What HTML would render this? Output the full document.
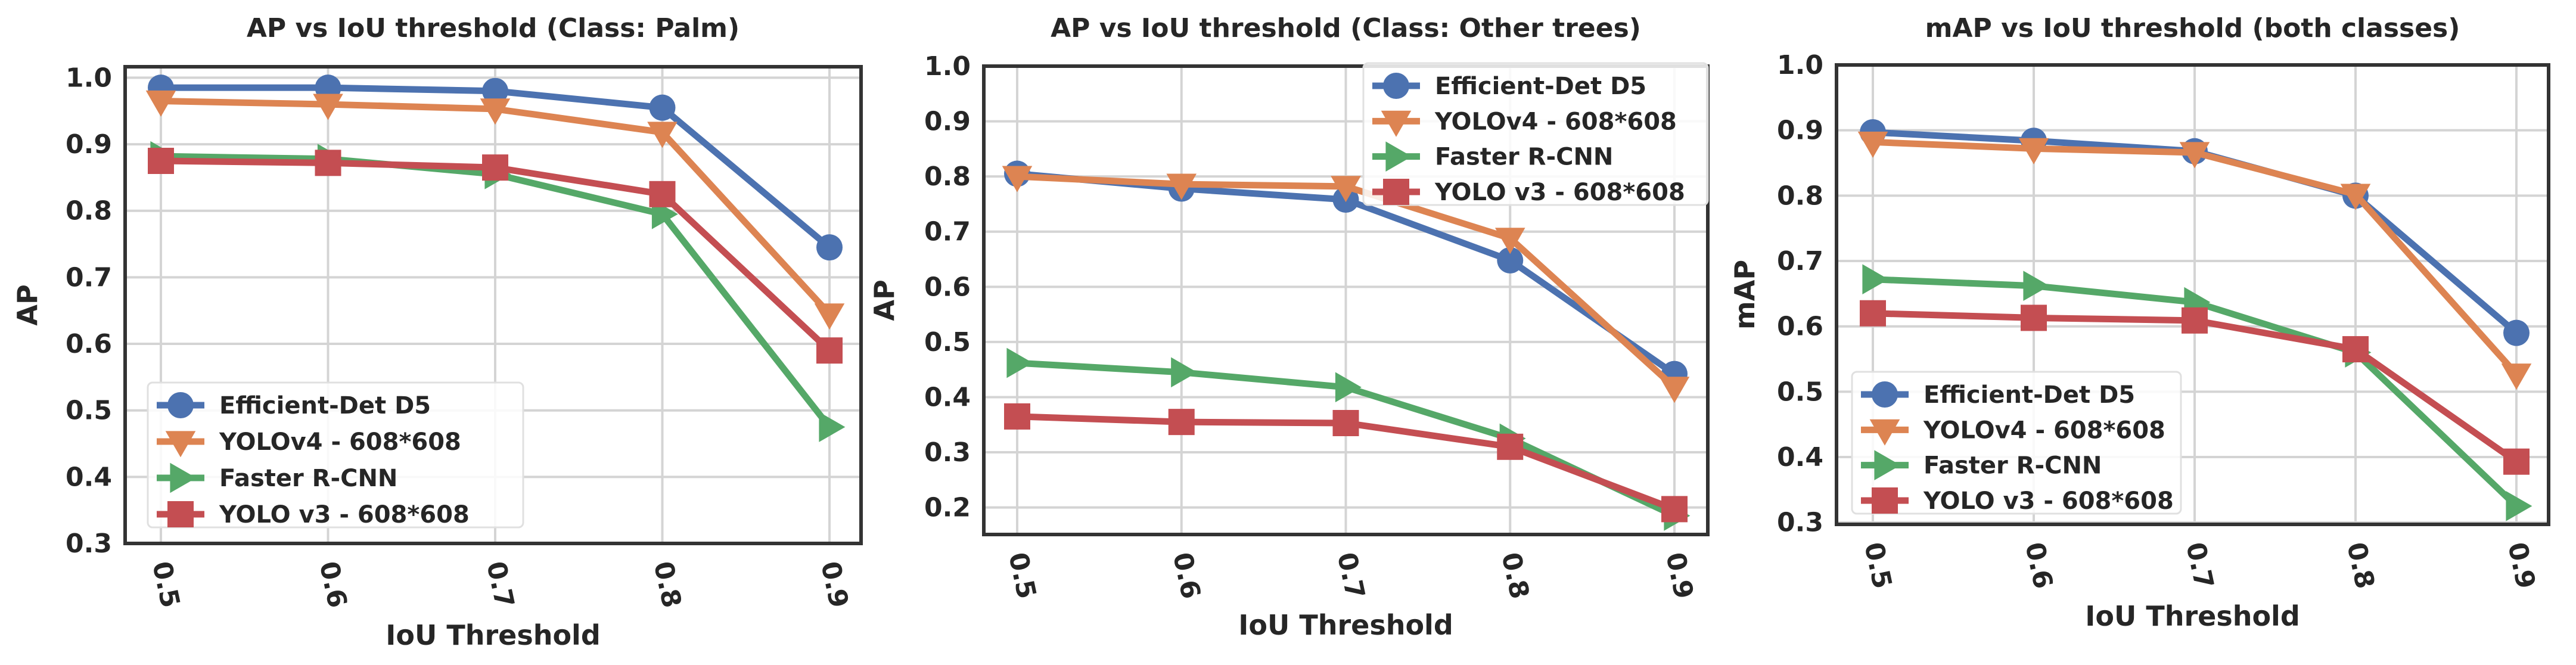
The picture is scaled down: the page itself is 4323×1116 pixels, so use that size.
<!DOCTYPE html>
<html><head><meta charset="utf-8"><style>
html,body{margin:0;padding:0;background:#fff;}
svg{display:block;font-family:"DejaVu Sans","Liberation Sans",sans-serif;}
</style></head><body>
<svg id="chart" width="4323" height="1116" viewBox="0 0 4323 1116" xmlns="http://www.w3.org/2000/svg"></svg>
<script>
const categories = ["0.5","0.6","0.7","0.8","0.9"];
const seriesNames = ["Efficient-Det D5","YOLOv4 - 608*608","Faster R-CNN","YOLO v3 - 608*608"];
const palmEff = [0.985,0.985,0.98,0.955,0.745];
const palmV4 = [0.965,0.96,0.953,0.918,0.645];
const palmFR = [0.882,0.878,0.855,0.795,0.475];
const palmV3 = [0.875,0.872,0.865,0.825,0.59];
const otherEff = [0.805,0.778,0.758,0.648,0.442];
const otherV4 = [0.8,0.786,0.782,0.688,0.418];
const otherFR = [0.462,0.445,0.418,0.325,0.185];
const otherV3 = [0.365,0.355,0.353,0.31,0.197];
const mapEff = [0.897,0.884,0.868,0.8,0.59];
const mapV4 = [0.882,0.872,0.866,0.802,0.527];
const mapFR = [0.672,0.662,0.637,0.56,0.325];
const mapV3 = [0.62,0.613,0.609,0.565,0.393];
const ticks1 = ["0.3","0.4","0.5","0.6","0.7","0.8","0.9","1.0"];
const ticks2 = ["0.2","0.3","0.4","0.5","0.6","0.7","0.8","0.9","1.0"];
const ticks3 = ["0.3","0.4","0.5","0.6","0.7","0.8","0.9","1.0"];

const colors = ["#4C72B0","#DD8452","#55A868","#C44E52"];
const markers = ["circle","tri-down","tri-right","square"];
const NS = "http://www.w3.org/2000/svg";
const svg = document.getElementById("chart");
function el(tag, attrs, parent){const e=document.createElementNS(NS,tag);for(const k in attrs)e.setAttribute(k,attrs[k]);(parent||svg).appendChild(e);return e;}

const panels = [
 {key:"palm",title:"AP vs IoU threshold (Class: Palm)",ylab:"AP",L:210,R:1445,T:112,B:912,ymin:0.3,ymax:1.0165,x0:270,x4:1392,ticks:ticks1,data:[palmEff,palmV4,palmFR,palmV3],leg:{x:248,y:642,w:630,h:243},ylabX:62,xlabY:1082},
 {key:"other",title:"AP vs IoU threshold (Class: Other trees)",ylab:"AP",L:1651,R:2866,T:111,B:897,ymin:0.151,ymax:1.0,x0:1707,x4:2810,ticks:ticks2,data:[otherEff,otherV4,otherFR,otherV3],leg:{x:2288,y:106,w:578,h:238},ylabX:1500,xlabY:1065},
 {key:"map",title:"mAP vs IoU threshold (both classes)",ylab:"mAP",L:3082,R:4277,T:109,B:880,ymin:0.297,ymax:1.0,x0:3143,x4:4223,ticks:ticks3,data:[mapEff,mapV4,mapFR,mapV3],leg:{x:3108,y:624,w:552,h:238},ylabX:2944,xlabY:1050}
];

function drawMarker(g,type,cx,cy,s,color){
  if(type==="circle") return el("circle",{cx:cx,cy:cy,r:s,fill:color},g);
  if(type==="square") return el("rect",{x:cx-s,y:cy-s,width:2*s,height:2*s,fill:color},g);
  if(type==="tri-down") return el("polygon",{points:`${cx-s*1.15},${cy-s*0.8} ${cx+s*1.15},${cy-s*0.8} ${cx},${cy+s*1.2}`,fill:color},g);
  return el("polygon",{points:`${cx-s*0.8},${cy-s*1.15} ${cx-s*0.8},${cy+s*1.15} ${cx+s*1.2},${cy}`,fill:color},g);
}

panels.forEach(p=>{
  const g = el("g",{});
  
  
  const xs = i => p.x0 + (p.x4-p.x0)*i/(categories.length-1);
  const ys = v => p.B - (v-p.ymin)/(p.ymax-p.ymin)*(p.B-p.T);
  p.ticks.forEach(t=>{
    const y=ys(parseFloat(t));
    const gl=el("line",{x1:p.L,x2:p.R,y1:y,y2:y,stroke:"#d4d4d4","stroke-width":4},g);
    
    
    const tl=el("text",{x:p.L-22,y:y+15,"text-anchor":"end","font-size":44,"font-weight":"bold",fill:"#262626"},g);
    tl.textContent=t;
    
    
  });
  categories.forEach((c,i)=>{
    const x=xs(i);
    const gl=el("line",{x1:x,x2:x,y1:p.T,y2:p.B,stroke:"#d4d4d4","stroke-width":4},g);
    
    
    const tl=el("text",{x:0,y:0,"font-size":44,"font-weight":"bold",fill:"#262626",transform:`translate(${x-14},${p.B+34}) rotate(78)`},g);
    tl.textContent=c;
    
    
  });
  const fr=el("rect",{x:p.L,y:p.T,width:p.R-p.L,height:p.B-p.T,fill:"none",stroke:"#333","stroke-width":6},g);
  
  
  p.data.forEach((arr,si)=>{
    const sg=el("g",{},g);
    
    
    const pts=arr.map((v,i)=>`${xs(i)},${ys(v)}`).join(" ");
    el("polyline",{points:pts,fill:"none",stroke:colors[si],"stroke-width":11,"stroke-linejoin":"round"},sg);
    arr.forEach((v,i)=>{
      const m=drawMarker(sg,markers[si],xs(i),ys(v),22,colors[si]);
      
      
    });
  });
  const tt=el("text",{x:(p.L+p.R)/2,y:62,"text-anchor":"middle","font-size":44,"font-weight":"bold",fill:"#262626"},g);
  tt.textContent=p.title;
  
  
  const xl=el("text",{x:(p.L+p.R)/2,y:p.xlabY,"text-anchor":"middle","font-size":46,"font-weight":"bold",fill:"#262626"},g);
  xl.textContent="IoU Threshold";
  
  
  const yl=el("text",{x:0,y:0,"text-anchor":"middle","font-size":46,"font-weight":"bold",fill:"#262626",transform:`translate(${p.ylabX},${(p.T+p.B)/2}) rotate(-90)`},g);
  yl.textContent=p.ylab;
  
  
  const lg=el("g",{},g);
  
  
  el("rect",{x:p.leg.x,y:p.leg.y,width:p.leg.w,height:p.leg.h,rx:8,fill:"#fff","fill-opacity":0.85,stroke:"#e0e0e0","stroke-width":3},lg);
  seriesNames.forEach((n,si)=>{
    const cy=p.leg.y+38+si*(p.leg.h-60)/3;
    const ent=el("g",{},lg);
    
    
    el("line",{x1:p.leg.x+15,x2:p.leg.x+95,y1:cy,y2:cy,stroke:colors[si],"stroke-width":11},ent);
    drawMarker(ent,markers[si],p.leg.x+55,cy,22,colors[si]);
    const t=el("text",{x:p.leg.x+120,y:cy+14,"font-size":40,"font-weight":"bold",fill:"#262626"},ent);
    t.textContent=n;
  });
});
</script>
</body></html>
